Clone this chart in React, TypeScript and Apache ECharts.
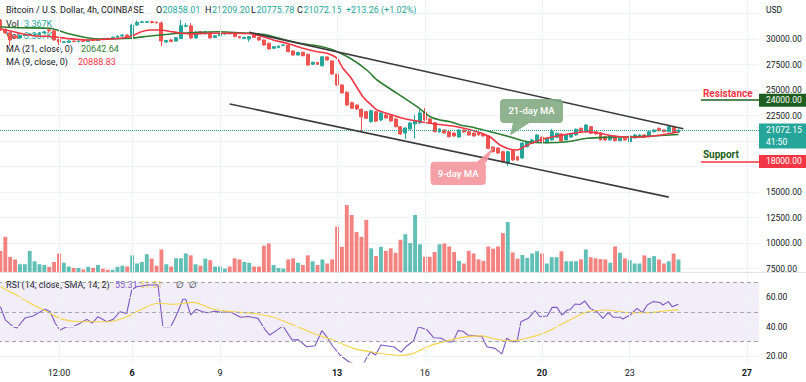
import React, { useEffect, useRef } from 'react';
import * as echarts from 'echarts';

const FONT = 'Roboto, "Noto Sans", "DejaVu Sans", sans-serif';
const TEXT = '#131722';
const UP = '#26a69a';
const DOWN = '#ef5350';
const VOL_UP = 'rgba(38,166,154,0.72)';
const VOL_DOWN = 'rgba(239,83,80,0.72)';
const GRID_LINE = '#eef1f6';
const MA21_COLOR = '#2e7d32';
const MA9_COLOR = '#f23645';
const TREND_COLOR = '#3b3b3b';
const RSI_COLOR = '#7e57c2';
const RSI_SMA_COLOR = '#f5d44a';
const DARK_GREEN = '#1e5e20';
const RED = '#f23645';

// 4h slots on the time axis (candles + empty space to the right)
const SLOTS = 156;
const tickIndex = [12, 27, 45, 69, 87, 111, 129, 153];
const tickLabels = ['12:00', '6', '9', '13', '16', '20', '23', '27'];
const tickBold = [false, true, false, true, false, true, false, true];

// [open, close, low, high]
const candles: number[][] = [
  [31860, 30880, 30780, 31960], [30900, 30600, 30500, 31050], [30600, 29900, 29310, 30700], [30290, 30100, 30000, 30350],
  [30100, 30350, 30000, 30450], [30350, 30390, 30250, 30500], [30390, 30500, 30300, 30600], [30420, 30480, 30350, 30560],
  [30450, 30600, 30350, 30680], [30600, 30700, 30520, 30800], [30900, 30800, 30600, 31080], [30800, 29900, 29850, 30980],
  [29950, 29700, 29410, 30050], [29660, 29720, 29600, 29780], [29680, 29800, 29620, 29880], [29800, 29740, 29700, 29860],
  [29740, 29790, 29680, 29840], [29800, 29760, 29700, 29860], [29760, 29880, 29720, 29950], [29900, 29850, 29800, 29960],
  [29860, 29980, 29820, 30050], [30050, 30000, 29950, 30100], [30060, 30020, 29980, 30100], [30020, 30180, 29980, 30230],
  [30180, 30290, 30140, 30350], [30290, 30390, 30250, 30440], [30390, 30250, 30200, 30450], [30230, 31370, 30180, 31450],
  [31370, 31620, 31300, 31800], [31620, 31680, 31580, 31800], [31640, 31700, 31560, 31780], [31700, 31620, 31520, 31760],
  [31640, 31580, 31520, 31720], [31570, 29800, 29300, 31720], [29710, 29850, 29600, 29900], [29900, 29760, 29700, 30000],
  [29800, 30120, 29750, 30200], [30050, 31300, 29980, 31860], [31250, 31330, 31150, 31560], [31280, 30100, 30000, 31570],
  [30100, 30690, 30050, 30750], [30720, 30640, 30580, 30800], [30520, 30700, 30450, 30760], [30650, 30100, 30050, 30700],
  [30150, 30320, 30100, 30400], [30320, 30480, 30280, 30560], [30480, 30560, 30440, 30620], [30560, 30510, 30450, 30620],
  [30560, 30230, 30180, 30620], [30250, 30120, 30050, 30300], [30050, 30150, 29990, 30230], [30000, 30230, 29740, 30300],
  [30380, 30150, 30100, 30420], [30150, 29900, 29850, 30200], [29900, 29410, 29350, 29950], [29580, 29020, 28950, 29650],
  [29090, 29250, 29020, 29300], [29150, 29300, 29100, 29380], [29380, 29420, 29300, 29500], [29410, 28760, 28700, 29480],
  [28820, 28430, 28360, 28880], [28430, 28680, 28380, 28720], [28700, 28360, 28300, 28750], [28500, 27450, 27380, 28550],
  [27520, 27720, 27450, 27780], [27700, 27520, 27450, 27760], [27380, 28260, 27300, 28350], [28240, 27940, 27880, 28300],
  [27850, 26570, 26500, 27900], [26540, 25490, 25400, 26600], [25490, 24710, 24650, 25560], [24780, 23530, 23450, 24850],
  [23760, 23210, 23150, 23850], [23530, 23140, 23050, 23580], [23110, 22380, 20900, 23200], [22870, 22230, 22150, 22950],
  [21890, 22970, 21800, 23050], [22870, 21950, 21850, 22950], [22060, 22750, 21950, 22850], [22550, 22260, 22200, 22620],
  [22500, 21960, 21900, 22560], [22160, 21400, 21350, 22230], [21400, 20690, 20600, 21450], [20780, 21270, 20200, 21350],
  [21180, 21770, 21100, 21850], [21670, 21960, 20250, 22550], [21770, 22750, 21700, 23040], [22840, 22060, 21990, 23240],
  [22160, 21770, 21700, 22250], [21790, 20910, 20850, 21850], [20880, 21180, 20820, 21250], [21080, 20780, 20720, 21150],
  [20910, 20420, 20350, 20980], [20780, 20490, 20420, 20850], [20390, 21080, 20320, 21150], [21080, 20880, 20820, 21130],
  [20910, 20590, 20520, 20980], [20780, 20490, 20430, 20840], [20780, 20590, 20530, 20830], [20690, 20490, 20430, 20760],
  [20490, 19280, 19200, 20560], [19410, 18950, 18880, 19480], [19310, 18820, 18750, 19380], [18950, 17970, 17900, 19050],
  [17840, 18950, 17550, 19050], [19050, 18140, 18050, 19120], [18460, 18140, 18050, 18530], [18330, 19800, 18250, 19900],
  [19440, 19930, 19380, 20000], [19770, 20100, 19700, 20180], [19930, 20590, 19870, 20650], [20390, 19900, 19840, 20450],
  [19830, 20270, 19780, 20330], [20100, 20910, 20040, 21180], [20360, 20760, 20300, 20820], [20690, 20000, 19940, 20750],
  [20100, 20590, 20050, 20650], [20390, 20690, 20330, 20750], [20590, 21150, 20520, 21230], [21250, 20910, 20850, 21310],
  [20910, 21570, 20850, 21650], [21400, 20760, 20700, 21470], [20910, 20690, 20630, 20960], [20810, 20100, 20040, 20870],
  [20420, 20100, 20040, 20490], [20100, 20490, 20040, 20560], [20490, 20030, 19970, 20550], [20030, 20270, 19980, 20330],
  [20270, 20100, 20040, 20330], [19930, 20490, 19880, 20560], [20300, 20590, 20240, 20660], [20360, 20590, 20300, 20650],
  [20590, 20360, 20300, 20650], [20420, 20910, 20360, 20980], [20910, 21080, 20850, 21150], [21250, 21010, 20950, 21310],
  [21080, 20910, 20850, 21140], [20910, 21400, 20860, 21460], [21320, 20860, 20800, 21380], [20858.01, 21072.15, 20775.78, 21209.2],
];

// volume, thousands of BTC
const volumeK: number[] = [
  5.7, 9.5, 4.1, 3.4, 2.1, 2.1, 5.7, 2.9, 2.1, 1.9,
  1.4, 2.7, 5.0, 2.5, 1.5, 1.1, 1.1, 0.7, 1.4, 1.1,
  1.9, 0.9, 0.6, 0.6, 1.4, 1.7, 1.5, 4.5, 2.3, 2.7,
  4.8, 3.6, 1.7, 6.1, 2.1, 1.5, 3.7, 3.7, 5.0, 4.5,
  2.1, 1.7, 3.6, 3.2, 1.5, 1.5, 0.9, 1.5, 3.7, 3.4,
  2.7, 2.5, 1.5, 1.5, 7.1, 7.7, 1.9, 1.1, 0.9, 3.4,
  3.7, 2.5, 1.9, 4.5, 2.9, 1.9, 3.4, 2.3, 3.4, 12.3,
  6.8, 18.1, 15.4, 10.8, 9.5, 14.1, 6.4, 4.3, 6.8, 5.7,
  6.4, 5.2, 8.7, 10.2, 7.8, 15.4, 7.5, 4.1, 4.1, 5.4,
  7.5, 7.7, 6.9, 5.4, 3.0, 2.3, 5.7, 5.0, 3.4, 3.0,
  6.9, 6.3, 6.9, 10.5, 13.5, 5.3, 3.6, 4.6, 3.8, 5.0,
  5.6, 5.0, 2.3, 4.0, 4.0, 5.6, 2.9, 2.9, 2.9, 3.4,
  6.1, 4.0, 3.7, 3.5, 3.4, 2.5, 6.9, 5.2, 3.7, 3.2,
  2.3, 2.3, 4.5, 3.8, 4.3, 3.4, 2.3, 2.9, 5.0, 3.367,
];

// moving averages: [slot, price]
const ma21: number[][] = [
  [0, 31206], [4, 31108], [10.2, 31049], [13.6, 30559], [17.7, 30127], [20.4, 30000], [26.6, 30069], [30.7, 30294],
  [36.8, 30559], [44.4, 30716], [51.2, 30559], [54.6, 30392], [57.9, 29971], [61.4, 29578], [64.9, 29330], [68.2, 28922],
  [71.7, 28108], [75.1, 26961], [77.2, 25980], [81.3, 24676], [85.4, 23363], [88.1, 22382], [90.1, 22059], [92.2, 21892],
  [94.2, 21569], [96.3, 21402], [99, 21078], [100.4, 20912], [104.5, 20392], [108, 19931], [112.1, 19833], [116.2, 19931],
  [120.3, 20265], [124.4, 20363], [129.7, 20422], [133.8, 20490], [139, 20642.64],
];
const ma9: number[][] = [
  [0, 31000], [4, 30559], [6.7, 30324], [10.8, 30225], [13.6, 30050], [17.7, 29902], [22.5, 30000], [26.6, 30225],
  [28.6, 30657], [30.7, 30882], [32.7, 30882], [35.4, 30700], [38.9, 30500], [43, 30559], [47.1, 30559], [51.2, 30520],
  [53.8, 30225], [55.9, 29902], [58.7, 29578], [62, 29088], [64.9, 28755], [66.9, 28598], [69, 28108], [70.2, 27127],
  [71.7, 26304], [74.3, 24343], [76.4, 23363], [77.2, 23039], [79.2, 22716], [82.5, 22225], [85.9, 21912], [90, 21618],
  [93.6, 21402], [97.7, 20912], [100.4, 20392], [102.4, 19608], [104.5, 19186], [105.9, 19118], [108, 19608],
  [110.6, 20098], [113.3, 20422], [117.4, 20755], [120.3, 20912], [122.9, 20755], [125.6, 20490], [129.7, 20363],
  [133.8, 20490], [139, 20888.83],
];

// channel lines [slot, price]
const upperTrend: number[][] = [[51, 30660], [140, 21200]];
const lowerTrend: number[][] = [[47, 23630], [137, 14500]];
const resistance = 24000;
const support = 18000;
const levelFrom = 143.6;
const levelTo = 155.5;
const lastPrice = 21072.15;
const countdown = '41:50';
// axis values hidden behind the price tags
const coveredPriceTicks = [20000, 17500, 32500];

// RSI pane
const rsi: number[][] = [
  [0, 53.7], [1, 44.6], [2.6, 40], [3.4, 39.1], [5, 45.9], [6.7, 47.3], [9.1, 52], [10.2, 50.2], [11.2, 42.5], [12.2, 37.7],
  [13.6, 40], [14.9, 40], [16.3, 42.3], [17.7, 45], [18.8, 42.5], [20, 46.8], [21.8, 43.4], [23.1, 45], [24.5, 50.2],
  [25.9, 49.1], [26.1, 52.5], [26.9, 65], [27.9, 67.3], [30.2, 68.5], [32.3, 68.5], [33.3, 40], [34.9, 40], [35.6, 44.6],
  [36.4, 50.2], [37.4, 58.7], [38, 58.7], [39, 48], [40.1, 51.9], [41.5, 50.2], [42.5, 49.5], [43.9, 50.5], [45.4, 49.8],
  [47.1, 50.2], [49.2, 46.4], [50.8, 47], [52.8, 45.7], [54.2, 38.2], [55.2, 34.3], [56.9, 38.2], [57.9, 40.5],
  [59.8, 30.9], [61, 31.2], [62.8, 26.3], [64.5, 27], [65.9, 37.3], [66.9, 33], [68.2, 26.3], [69.6, 20.7], [71.4, 16.1],
  [72.6, 14.5], [74.4, 14.5], [75.2, 19.5], [75.9, 22.9], [76.9, 20.7], [78, 27.5], [79.4, 26.8], [80.7, 26.1],
  [82.1, 22.6], [83.1, 26.3], [84.7, 30.4], [85.7, 40], [87.5, 37.7], [88.8, 32.5], [90.2, 32.3], [91.8, 29.6],
  [92.8, 29.8], [93.8, 37.3], [94.8, 36.9], [95.8, 34.3], [97.7, 33.7], [98.7, 33.3], [99.7, 26.3], [101.4, 25.2],
  [102.8, 21.4], [103.8, 32.1], [104.9, 29.8], [105.9, 29.8], [106.7, 43.4], [108.2, 45.7], [109.6, 50.9], [110.6, 46.8],
  [112.1, 47.3], [113.1, 53.2], [114.1, 53.2], [115.1, 48], [116.2, 51.4], [116.8, 51.6], [117.8, 55.5], [118.8, 55.2],
  [119.8, 57.5], [120.9, 52.5], [122.3, 50.2], [123.5, 45.7], [124.6, 49.8], [125.6, 46.4], [127, 46.4], [127.6, 45.3],
  [129.1, 48], [130.5, 52.5], [131.6, 49.6], [132.6, 54.8], [133.8, 57.1], [135.2, 56.5], [135.8, 54.8], [136.9, 57.1],
  [137.7, 53.7], [139, 55.31],
];
const rsiSma: number[][] = [
  [0, 67.3], [2.6, 62.8], [6.1, 56], [9.6, 50.2], [12.8, 45], [16.6, 43.4], [21.8, 43.4], [25.1, 45.7], [28.6, 51.4],
  [32.3, 56], [35.6, 55.3], [39.6, 56.6], [43.6, 51.9], [47.7, 50.2], [51.8, 49.1], [55.9, 46.4], [60, 41.2], [64.1, 35.5],
  [68.2, 30.9], [72.3, 25.2], [75.9, 22.9], [82.1, 20.4], [84.7, 21.8], [87.5, 26.3], [90.9, 29.8], [95.6, 33.2],
  [98.7, 33.7], [101.6, 31.4], [104.8, 30.4], [109.1, 33.2], [112.1, 36.6], [114.7, 41.2], [117.4, 45.7], [120.3, 50.2],
  [124.4, 51.4], [127.1, 50.2], [129.7, 49.6], [133.8, 49.8], [136.6, 50.9], [139, 51.51],
];
const rsiTicks = [20, 40, 60];
const rsiBandLines = [70, 50, 30];

// callout anchors [slot, price]
const ma21Callout = [104.46, 20540];
const ma9Callout = [101.2, 19441];

const categories = Array.from({ length: SLOTS }, (_, i) => String(i));
const isTick = (i: number) => tickIndex.includes(i);

function buildOption(): any {
  const hiddenCat = (gridIndex: number) => ({
    type: 'category', gridIndex, data: categories, boundaryGap: true, show: false,
  });
  const hiddenVal = (gridIndex: number) => ({
    type: 'value', gridIndex, min: -0.5, max: SLOTS - 0.5, show: false,
  });
  const vLines = tickIndex.map((i) => ({ xAxis: i }));
  return {
    animation: false,
    backgroundColor: '#ffffff',
    grid: [
      { left: -2, top: 13.5, width: 761, height: 255, outerBoundsMode: 'none' },
      { left: -2, top: 0, width: 761, height: 272, outerBoundsMode: 'none' },
      { left: -2, top: 273, width: 761, height: 89, outerBoundsMode: 'none' },
    ],
    xAxis: [
      hiddenCat(0),
      hiddenCat(1),
      {
        type: 'category', gridIndex: 2, data: categories, boundaryGap: true,
        axisLine: { show: false }, axisTick: { show: false }, splitLine: { show: false },
        axisLabel: {
          interval: (i: number) => isTick(i),
          margin: 6,
          formatter: (_v: string, i: number) => {
            const j = tickIndex.indexOf(i);
            if (j < 0) return '';
            return tickBold[j] ? `{b|${tickLabels[j]}}` : `{n|${tickLabels[j]}}`;
          },
          rich: {
            b: { fontWeight: 'bold', fontSize: 9, color: TEXT, fontFamily: FONT },
            n: { fontSize: 9, color: TEXT, fontFamily: FONT },
          },
        },
      },
      hiddenVal(0),
      hiddenVal(2),
      hiddenVal(1),
    ],
    yAxis: [
      {
        type: 'value', gridIndex: 0, position: 'right', min: 7500, max: 32500, interval: 2500,
        axisLine: { show: false }, axisTick: { show: false },
        axisLabel: {
          margin: 7, fontSize: 8.5, color: TEXT, fontFamily: FONT,
          formatter: (v: number) => (coveredPriceTicks.includes(v) ? '' : v.toFixed(2)),
        },
        splitLine: { show: true, lineStyle: { color: GRID_LINE, width: 1 } },
      },
      { type: 'value', gridIndex: 1, min: 0, max: 73.5, show: false },
      {
        type: 'value', gridIndex: 2, position: 'right', min: 15.9, max: 76.65,
        axisLine: { show: false }, axisTick: { show: false }, splitLine: { show: false },
        axisLabel: {
          customValues: rsiTicks, margin: 7, fontSize: 8.5, color: TEXT, fontFamily: FONT,
          formatter: (v: number) => v.toFixed(2),
        },
      },
    ],
    series: [
      // 0: vertical grid lines (price pane)
      {
        type: 'line', xAxisIndex: 5, yAxisIndex: 1, data: [], z: 0, silent: true,
        markLine: {
          silent: true, symbol: ['none', 'none'], label: { show: false },
          lineStyle: { color: GRID_LINE, width: 1, type: 'solid' }, data: vLines,
        },
      },
      // 1: volume
      {
        type: 'bar', xAxisIndex: 1, yAxisIndex: 1, z: 1, silent: true, barWidth: '80%',
        data: volumeK.map((v, i) => ({
          value: v,
          itemStyle: { color: candles[i][1] >= candles[i][0] ? VOL_UP : VOL_DOWN },
        })),
      },
      // 2: candles
      {
        type: 'candlestick', xAxisIndex: 0, yAxisIndex: 0, z: 3, silent: true, barWidth: '70%',
        data: candles,
        itemStyle: { color: UP, color0: DOWN, borderColor: UP, borderColor0: DOWN, borderWidth: 1 },
        markLine: {
          silent: true, symbol: ['none', 'none'], label: { show: false },
          lineStyle: { color: UP, width: 1, type: 'dotted' },
          data: [{ yAxis: lastPrice }],
        },
      },
      // 3: MA 21
      {
        type: 'line', xAxisIndex: 3, yAxisIndex: 0, data: ma21, z: 4, silent: true,
        symbol: 'none', smooth: 0.25, lineStyle: { color: MA21_COLOR, width: 1.6 },
      },
      // 4: MA 9
      {
        type: 'line', xAxisIndex: 3, yAxisIndex: 0, data: ma9, z: 4, silent: true,
        symbol: 'none', smooth: 0.25, lineStyle: { color: MA9_COLOR, width: 1.6 },
      },
      // 5: upper channel line
      {
        type: 'line', xAxisIndex: 3, yAxisIndex: 0, data: upperTrend, z: 5, silent: true,
        symbol: 'none', lineStyle: { color: TREND_COLOR, width: 1.6 },
      },
      // 6: lower channel line + resistance / support levels
      {
        type: 'line', xAxisIndex: 3, yAxisIndex: 0, data: lowerTrend, z: 5, silent: true,
        symbol: 'none', lineStyle: { color: TREND_COLOR, width: 1.6 },
        markLine: {
          silent: true, symbol: ['none', 'none'],
          data: [
            [
              {
                coord: [levelFrom, resistance],
                lineStyle: { color: DARK_GREEN, width: 1.6, type: 'solid' },
                label: {
                  show: true, position: 'insideStartTop', formatter: 'Resistance', distance: 2,
                  color: RED, fontWeight: 'bold', fontSize: 10, fontFamily: FONT,
                },
              },
              { coord: [levelTo, resistance] },
            ],
            [
              {
                coord: [levelFrom, support],
                lineStyle: { color: RED, width: 1.6, type: 'solid' },
                label: {
                  show: true, position: 'insideStartTop', formatter: 'Support', distance: 2,
                  color: DARK_GREEN, fontWeight: 'bold', fontSize: 10, fontFamily: FONT,
                },
              },
              { coord: [levelTo, support] },
            ],
          ],
        },
      },
      // 7: RSI pane background lines
      {
        type: 'line', xAxisIndex: 4, yAxisIndex: 2, data: [], z: 0, silent: true,
        markLine: {
          silent: true, symbol: ['none', 'none'], label: { show: false },
          lineStyle: { color: GRID_LINE, width: 1, type: 'solid' },
          data: [...vLines, ...rsiTicks.map((v) => ({ yAxis: v }))],
        },
      },
      // 8: RSI
      {
        type: 'line', xAxisIndex: 4, yAxisIndex: 2, data: rsi, z: 3, silent: true,
        symbol: 'none', lineStyle: { color: RSI_COLOR, width: 1.1 },
        markArea: {
          silent: true, itemStyle: { color: 'rgba(126,87,194,0.1)' },
          data: [[{ yAxis: rsiBandLines[0] }, { yAxis: rsiBandLines[2] }]],
        },
        markLine: {
          silent: true, symbol: ['none', 'none'], label: { show: false },
          lineStyle: { color: '#a3a6ae', width: 1, type: [4, 3] },
          data: rsiBandLines.map((v) => ({ yAxis: v })),
        },
      },
      // 9: RSI SMA
      {
        type: 'line', xAxisIndex: 4, yAxisIndex: 2, data: rsiSma, z: 3, silent: true,
        symbol: 'none', smooth: 0.3, lineStyle: { color: RSI_SMA_COLOR, width: 1.1 },
      },
    ],
  };
}

function buildGraphics(chart: any): any[] {
  const py = (p: number) => chart.convertToPixel({ yAxisIndex: 0 }, p);
  const T = (x: number, y: number, text: string, fill: string, extra: any = {}, z = 0) => ({
    type: 'text', x, y, z, silent: true,
    style: {
      text, fill, fontSize: 9, fontFamily: FONT, verticalAlign: 'middle', align: 'left', ...extra,
    },
  });
  const g: any[] = [];
  // legend rows
  g.push(T(6, 10, 'Bitcoin / U.S. Dollar, 4h, COINBASE', TEXT));
  g.push(T(156, 10, 'O', TEXT), T(162.5, 10, '20858.01', UP));
  g.push(T(205, 10, 'H', TEXT), T(212, 10, '21209.20', UP));
  g.push(T(251, 10, 'L', TEXT), T(256.5, 10, '20775.78', UP));
  g.push(T(297, 10, 'C', TEXT), T(303.5, 10, '21072.15', UP));
  g.push(T(346, 10, '+213.26 (+1.02%)', UP));
  g.push(T(6, 24, 'Vol', TEXT), T(24, 24, '3.367K', UP));
  g.push(T(6, 36, 'Vol', TEXT), T(24, 36, '3.367K', UP));
  g.push(T(6, 49, 'MA (21, close, 0)', TEXT), T(81, 49, '20642.64', MA21_COLOR));
  g.push(T(6, 62, 'MA (9, close, 0)', TEXT), T(78, 62, '20888.83', MA9_COLOR));
  g.push(T(6, 285, 'RSI (14, close, SMA, 14, 2)', TEXT), T(115, 285, '55.31', RSI_COLOR),
    T(140, 285, '51.51', RSI_SMA_COLOR), T(176, 285, '∅', TEXT), T(189, 285, '∅', TEXT));
  g.push(T(766, 10, 'USD', TEXT, { fontSize: 8.5 }));

  // pane separator
  g.push({ type: 'line', z: 1, silent: true, shape: { x1: 0, y1: 272.5, x2: 806, y2: 272.5 }, style: { stroke: '#e0e3eb', lineWidth: 1 } });

  // price tags on the axis
  const tag = (price: number, color: string, lines: string[]) => {
    const y = py(price);
    const h = lines.length > 1 ? 25 : 13;
    g.push({ type: 'rect', z: 50, silent: true, shape: { x: 759, y: y - 6.5, width: 47, height: h }, style: { fill: color } });
    lines.forEach((t, i) => g.push(T(766, y + i * 12, t, '#ffffff', { fontSize: 8.5 }, 51)));
  };
  tag(resistance, DARK_GREEN, [resistance.toFixed(2)]);
  tag(lastPrice, UP, [lastPrice.toFixed(2), countdown]);
  tag(support, RED, [support.toFixed(2)]);

  // callouts
  const [tx, ty] = chart.convertToPixel({ seriesIndex: 3 }, ma21Callout);
  const c21 = 'rgba(128,168,126,0.88)';
  g.push({ type: 'polygon', z: 40, silent: true, shape: { points: [[tx, ty], [tx + 3, ty - 13], [tx + 20, ty - 13]] }, style: { fill: c21 } });
  g.push({ type: 'rect', z: 40, silent: true, shape: { x: tx - 10, y: ty - 36.5, width: 63, height: 24, r: 4 }, style: { fill: c21 } });
  g.push(T(tx + 21.5, ty - 24.5, '21-day MA', '#ffffff', { align: 'center', fontSize: 9.5, fontWeight: 500 }, 41));

  const [ux, uy] = chart.convertToPixel({ seriesIndex: 4 }, ma9Callout);
  const c9 = 'rgba(244,150,157,0.9)';
  g.push({ type: 'polygon', z: 40, silent: true, shape: { points: [[ux, uy], [ux - 18, uy + 16], [ux - 8, uy + 16]] }, style: { fill: c9 } });
  g.push({ type: 'rect', z: 40, silent: true, shape: { x: ux - 63.6, y: uy + 15, width: 55.3, height: 23.3, r: 4 }, style: { fill: c9 } });
  g.push(T(ux - 36, uy + 26.7, '9-day MA', '#ffffff', { align: 'center', fontSize: 9.5, fontWeight: 500 }, 41));
  return g;
}

export default function App() {
  const ref = useRef<HTMLDivElement>(null);
  useEffect(() => {
    const chart = echarts.init(ref.current as HTMLDivElement, null, { renderer: 'svg' });
    chart.setOption(buildOption());
    chart.setOption({ graphic: buildGraphics(chart) });
    return () => chart.dispose();
  }, []);
  return (
    <div
      ref={ref}
      style={{ position: 'fixed', left: 0, top: 0, width: 806, height: 382, background: '#fff' }}
    />
  );
}
